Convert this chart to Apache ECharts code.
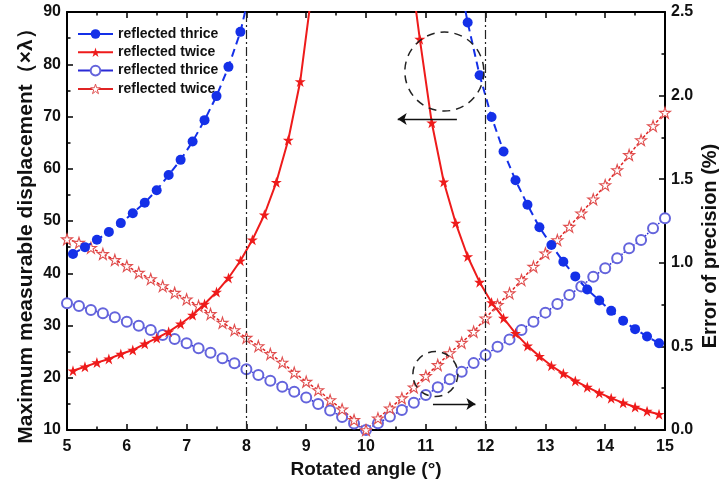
<!DOCTYPE html>
<html>
<head>
<meta charset="utf-8">
<script src="https://cdn.jsdelivr.net/npm/echarts@6/dist/echarts.min.js"></script>
<style>
  html, body { margin: 0; padding: 0; background: #fff; }
  #chart { width: 719px; height: 484px; }
</style>
</head>
<body>
<div id="chart"></div>
<script>
// Rotation angles (degrees) at which the displacement range was evaluated
const dispAngles = [5.1, 5.3, 5.5, 5.7, 5.9, 6.1, 6.3, 6.5, 6.7, 6.9,
  7.1, 7.3, 7.5, 7.7, 7.9, 8.1, 8.3, 8.5, 8.7, 8.9,
  9.1, 9.3, 9.5, 9.7, 9.9, 10.1, 10.3, 10.5, 10.7, 10.9,
  11.1, 11.3, 11.5, 11.7, 11.9, 12.1, 12.3, 12.5, 12.7, 12.9,
  13.1, 13.3, 13.5, 13.7, 13.9, 14.1, 14.3, 14.5, 14.7, 14.9];

// Maximum measurable displacement (x lambda); null = beyond the plotted range
const thriceDisp = [43.7, 45.0, 46.4, 47.9, 49.6, 51.5, 53.5, 55.9, 58.8, 61.7,
  65.2, 69.3, 73.9, 79.5, 86.2, 96.0, null, null, null, null,
  null, null, null, null, null, null, null, null, null, null,
  null, null, 100.0, 88.0, 77.9, 69.9, 63.3, 57.8, 53.1, 48.8,
  45.4, 42.2, 39.4, 36.9, 34.8, 32.8, 30.9, 29.3, 27.9, 26.6];

const twiceDisp = [21.35, 22.1, 22.9, 23.6, 24.55, 25.3, 26.5, 27.6, 28.8, 30.3,
  32.0, 34.1, 36.4, 39.1, 42.4, 46.4, 51.2, 57.4, 65.5, 76.7,
  94.4, null, null, null, null, null, null, null, 102.1, 84.8,
  68.8, 57.5, 49.6, 43.2, 38.3, 34.4, 31.4, 28.5, 26.1, 24.1,
  22.3, 20.8, 19.4, 18.2, 17.1, 16.1, 15.2, 14.4, 13.6, 13.0];

// Rotation angles at which the error of precision was evaluated
const errAngles = [5.0, 5.2, 5.4, 5.6, 5.8, 6.0, 6.2, 6.4, 6.6, 6.8,
  7.0, 7.2, 7.4, 7.6, 7.8, 8.0, 8.2, 8.4, 8.6, 8.8,
  9.0, 9.2, 9.4, 9.6, 9.8, 10.0, 10.2, 10.4, 10.6, 10.8,
  11.0, 11.2, 11.4, 11.6, 11.8, 12.0, 12.2, 12.4, 12.6, 12.8,
  13.0, 13.2, 13.4, 13.6, 13.8, 14.0, 14.2, 14.4, 14.6, 14.8, 15.0];

// Error of precision (%)
const thriceErr = [0.758, 0.742, 0.718, 0.698, 0.674, 0.648, 0.624, 0.598, 0.568, 0.544,
  0.519, 0.489, 0.462, 0.429, 0.399, 0.363, 0.329, 0.295, 0.259, 0.229,
  0.195, 0.155, 0.117, 0.078, 0.039, 0.0, 0.040, 0.080, 0.120, 0.163,
  0.209, 0.255, 0.303, 0.349, 0.400, 0.449, 0.498, 0.542, 0.598, 0.648,
  0.702, 0.754, 0.807, 0.859, 0.917, 0.967, 1.027, 1.087, 1.136, 1.206, 1.266];

const twiceErr = [1.141, 1.120, 1.090, 1.053, 1.017, 0.981, 0.941, 0.903, 0.861, 0.821,
  0.782, 0.742, 0.694, 0.642, 0.598, 0.552, 0.502, 0.455, 0.403, 0.343,
  0.289, 0.239, 0.179, 0.124, 0.060, 0.0, 0.070, 0.130, 0.190, 0.255,
  0.323, 0.389, 0.460, 0.522, 0.588, 0.668, 0.748, 0.818, 0.897, 0.977,
  1.057, 1.136, 1.216, 1.296, 1.380, 1.465, 1.555, 1.645, 1.734, 1.818, 1.898];

// Series names (trailing space keeps the two legend pairs distinct)
const seriesNames = ['reflected thrice', 'reflected twice', 'reflected thrice ', 'reflected twice '];
const boundaryAngles = [8, 12];

const FONT = '"Liberation Sans", Arial, sans-serif';
const STAR = 'path://M50,2 L61.2,36.2 L97,36.2 L68,57.4 L79.2,92 L50,70.6 L20.8,92 L32,57.4 L3,36.2 L38.8,36.2 Z';

function pairs(xs, ys) {
  return xs.map((x, i) => [x, ys[i] === null ? '-' : ys[i]]);
}

const chart = echarts.init(document.getElementById('chart'), null, { renderer: 'canvas' });

const axisLabelStyle = { color: '#111', fontSize: 16, fontWeight: 'bold', fontFamily: FONT };
const nameStyle = (size, extra) => Object.assign({ color: '#111', fontSize: size, fontWeight: 'bold', fontFamily: FONT }, extra || {});
const frameLine = { show: true, lineStyle: { color: '#000', width: 2 } };
const tickIn = { show: true, inside: true, length: 6, lineStyle: { color: '#000', width: 1.5 } };
const minorIn = { show: true, splitNumber: 2, length: 3.5, lineStyle: { color: '#000', width: 1.5 } };

chart.setOption({
  animation: false,
  backgroundColor: '#fff',
  grid: { left: 67, right: 54, top: 12, bottom: 54, containLabel: false, outerBoundsMode: 'none' },
  legend: {
    orient: 'vertical',
    left: 77,
    top: 27,
    padding: 0,
    itemWidth: 35,
    itemHeight: 12,
    itemGap: 4.3,
    data: [
      { name: seriesNames[0] },
      { name: seriesNames[1] },
      { name: seriesNames[2] },
      { name: seriesNames[3], itemStyle: { borderWidth: 1 } }
    ],
    lineStyle: { type: 'solid', width: 2 },
    textStyle: { color: '#111', fontSize: 14, fontWeight: 'bold', fontFamily: FONT },
    selectedMode: false
  },
  xAxis: [
    {
      type: 'value', min: 5, max: 15, interval: 1, position: 'bottom',
      axisLine: frameLine, axisTick: tickIn, minorTick: minorIn,
      splitLine: { show: false },
      axisLabel: Object.assign({ margin: 9 }, axisLabelStyle),
      name: 'Rotated angle (°)', nameLocation: 'middle', nameGap: 30, nameMoveOverlap: false,
      nameTextStyle: nameStyle(19)
    },
    {
      type: 'value', min: 5, max: 15, interval: 1, position: 'top',
      axisLine: frameLine, axisTick: tickIn, minorTick: minorIn,
      splitLine: { show: false }, axisLabel: { show: false }
    }
  ],
  yAxis: [
    {
      type: 'value', min: 10, max: 90, interval: 10, position: 'left',
      axisLine: frameLine, axisTick: tickIn, minorTick: minorIn,
      splitLine: { show: false },
      axisLabel: Object.assign({ margin: 6 }, axisLabelStyle),
      name: 'Maximum measurable displacement（×λ）', nameLocation: 'middle', nameGap: 30, nameMoveOverlap: false,
      nameTextStyle: nameStyle(21, { padding: [0, 20, 0, 0] })
    },
    {
      type: 'value', min: 0, max: 2.5, interval: 0.5, position: 'right',
      axisLine: frameLine, axisTick: tickIn, minorTick: minorIn,
      splitLine: { show: false },
      axisLabel: Object.assign({ margin: 6, formatter: (v) => v.toFixed(1) }, axisLabelStyle),
      name: 'Error of precision (%)', nameLocation: 'middle', nameGap: 35, nameMoveOverlap: false,
      nameTextStyle: nameStyle(20, { padding: [0, 50, 0, 0] })
    }
  ],
  series: [
    {
      name: seriesNames[0], type: 'line', xAxisIndex: 0, yAxisIndex: 0,
      data: pairs(dispAngles, thriceDisp),
      symbol: 'circle', symbolSize: 10, showAllSymbol: true, clip: true,
      itemStyle: { color: '#1430e8' },
      lineStyle: { color: '#1430e8', width: 2, type: [8, 5] },
      z: 4,
      markLine: {
        silent: true, symbol: 'none', label: { show: false },
        lineStyle: { color: '#222', width: 1.2, type: [9, 3, 2, 3] },
        data: boundaryAngles.map((a) => ({ xAxis: a }))
      }
    },
    {
      name: seriesNames[1], type: 'line', xAxisIndex: 0, yAxisIndex: 0,
      data: pairs(dispAngles, twiceDisp),
      symbol: STAR, symbolSize: 11, showAllSymbol: true, clip: true,
      itemStyle: { color: '#ee1b1b' },
      lineStyle: { color: '#ee1b1b', width: 2 },
      z: 4,
      markLine: {
        silent: true, symbol: ['none', 'arrow'], symbolSize: 9, label: { show: false },
        lineStyle: { color: '#111', width: 1.3, type: 'solid' },
        data: [
          [{ coord: [11.52, 69.5] }, { coord: [10.53, 69.5] }],
          [{ coord: [11.12, 15.0] }, { coord: [11.83, 15.0] }]
        ]
      }
    },
    {
      name: seriesNames[2], type: 'line', xAxisIndex: 0, yAxisIndex: 1,
      data: pairs(errAngles, thriceErr),
      symbol: 'emptyCircle', symbolSize: 10, showAllSymbol: true,
      itemStyle: { color: '#6464dc', borderWidth: 1.2 },
      lineStyle: { color: '#2a2ad6', width: 1.5, type: 'dotted' },
      z: 3
    },
    {
      name: seriesNames[3], type: 'line', xAxisIndex: 0, yAxisIndex: 1,
      data: pairs(errAngles, twiceErr),
      symbol: STAR, symbolSize: 11, showAllSymbol: true,
      itemStyle: { color: '#ffffff', borderColor: '#e05050', borderWidth: 1.1 },
      lineStyle: { color: '#e02424', width: 1.5, type: [3, 2] },
      z: 3
    }
  ]
});

// Dashed rings marking which curves belong to which axis
const rings = [
  { at: [11.31, 78.6], r: 39.5 },
  { at: [11.16, 20.7], r: 22.5 }
];
chart.setOption({
  graphic: rings.map((ring) => {
    const p = chart.convertToPixel({ xAxisIndex: 0, yAxisIndex: 0 }, ring.at);
    return {
      type: 'circle', silent: true, z: 10,
      shape: { cx: p[0], cy: p[1], r: ring.r },
      style: { fill: null, stroke: '#222', lineWidth: 1.5, lineDash: [8, 6] }
    };
  })
});
</script>
</body>
</html>
